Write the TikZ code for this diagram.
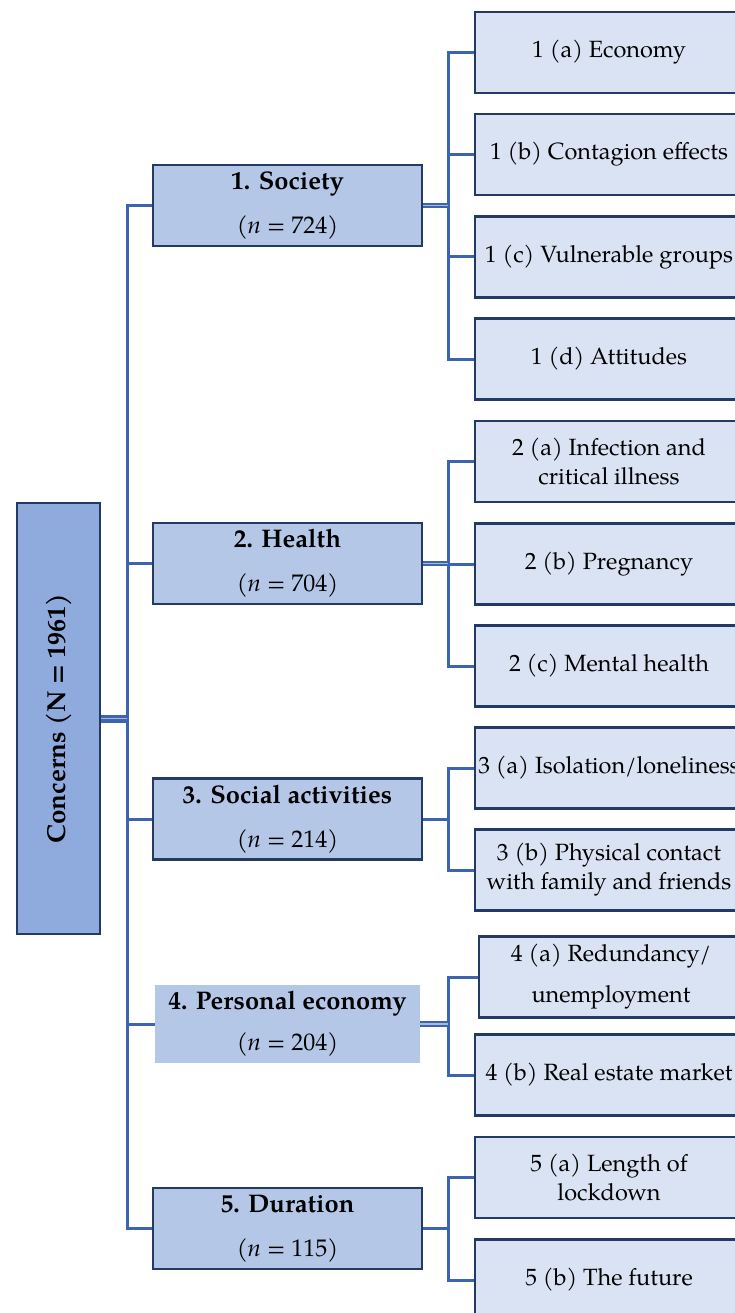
\documentclass[tikz,border=0pt]{standalone}
\usepackage{fontspec}
\setmainfont{texgyrepagella}[Extension=.otf, UprightFont=*-regular, BoldFont=*-bold, ItalicFont=*-italic, BoldItalicFont=*-bolditalic]
\definecolor{navy}{HTML}{233A64}
\definecolor{rootfill}{HTML}{8FAADC}
\definecolor{catfill}{HTML}{B4C7E7}
\definecolor{leaffill}{HTML}{DAE3F3}
\definecolor{linec}{HTML}{3D64AF}
\newcommand{\catfont}{\fontsize{24}{44}\selectfont}
\newcommand{\cattitle}[1]{{\fontsize{25.5}{44}\selectfont\bfseries #1}}
\tikzset{
  rootbox/.style={draw=navy, line width=2.8pt, fill=rootfill, minimum width=83pt, minimum height=431pt, inner sep=0pt, font=\fontsize{26}{30}\selectfont\bfseries},
  catbox/.style={draw=navy, line width=2.6pt, fill=catfill, minimum width=269pt, minimum height=81pt, inner sep=0pt, align=center, font=\catfont},
  catplain/.style={fill=catfill, minimum width=265pt, minimum height=78pt, inner sep=0pt, align=center, font=\fontsize{24}{41}\selectfont},
  leafbox/.style={draw=navy, line width=2.8pt, fill=leaffill, minimum width=268pt, minimum height=81pt, inner sep=0pt, align=center, font=\fontsize{23.5}{29}\selectfont},
  conn/.style={draw=linec, line width=3pt},
  dconn/.style={draw=linec, line width=2.2pt, double=linec!45, double distance=1.2pt},
  rconn/.style={draw=linec, line width=3.2pt, double=linec!45, double distance=1.6pt}
}
\begin{document}
\begin{tikzpicture}[x=1pt, y=-1pt]
\useasboundingbox (0,0) rectangle (735,1313);
\begin{scope}
\clip (0,0) rectangle (735,1313);
% root
\node[rootbox] (root) at (58.5,718.5) {\rotatebox{90}{Concerns (N = 1961)}};
% categories
\node[catbox] (soc) at (287.5,205.5) {\cattitle{1. Society}\\(\textit{n} = 724)};
\node[catbox] (hea) at (287.5,563.5) {\cattitle{2. Health}\\(\textit{n} = 704)};
\node[catbox] (sac) at (287.5,819) {\cattitle{3. Social activities}\\(\textit{n} = 214)};
\node[catplain] (pec) at (287.5,1024) {\cattitle{4. Personal economy}\\(\textit{n} = 204)};
\node[catbox] (dur) at (287.5,1228.5) {\cattitle{5. Duration}\\(\textit{n} = 115)};
% leaves
\node[leafbox] (l1a) at (609,52.5) {1 (a) Economy};
\node[leafbox] (l1b) at (609,154.5) {1 (b) Contagion effects};
\node[leafbox] (l1c) at (609,257) {1 (c) Vulnerable groups};
\node[leafbox] (l1d) at (609,359) {1 (d) Attitudes};
\node[leafbox] (l2a) at (609,461.5) {2 (a) Infection and\\critical illness};
\node[leafbox] (l2b) at (609,564) {2 (b) Pregnancy};
\node[leafbox] (l2c) at (609,666) {2 (c) Mental health};
\node[leafbox] (l3a) at (609,768) {3 (a) Isolation/loneliness};
\node[leafbox] (l3b) at (609,870) {3 (b) Physical contact\\with family and friends};
\node[leafbox, minimum width=264pt, font=\fontsize{23.5}{41}\selectfont] (l4a) at (611,977) {4 (a) Redundancy/\\unemployment};
\node[leafbox] (l4b) at (609,1075) {4 (b) Real estate market};
\node[leafbox] (l5a) at (609,1177.5) {5 (a) Length of\\lockdown};
\node[leafbox] (l5b) at (609,1280) {5 (b) The future};
% junction coordinates
\coordinate (tx) at (127,0);
\coordinate (bx) at (448,0);
% trunk
\draw[conn] (soc.west) -- (soc.west -| tx) -- (dur.west -| tx) -- (dur.west);
\draw[conn] (hea.west) -- (hea.west -| tx);
\draw[conn] (sac.west) -- (sac.west -| tx);
\draw[conn] (pec.west) -- (pec.west -| tx);
\draw[rconn] (root.east) -- (root.east -| tx);
% society branch
\draw[conn] (l1a.west) -- (l1a.west -| bx) -- (l1d.west -| bx) -- (l1d.west);
\draw[conn] (l1b.west) -- (l1b.west -| bx);
\draw[conn] (l1c.west) -- (l1c.west -| bx);
\draw[dconn] (soc.east) -- (soc.east -| bx);
% health branch
\draw[conn] (l2a.west) -- (l2a.west -| bx) -- (l2c.west -| bx) -- (l2c.west);
\draw[conn] (l2b.west) -- (l2b.west -| bx);
\draw[dconn] (hea.east) -- (hea.east -| bx);
% social branch
\draw[conn] (l3a.west) -- (l3a.west -| bx) -- (l3b.west -| bx) -- (l3b.west);
\draw[conn] (sac.east) -- (sac.east -| bx);
% personal economy branch
\draw[conn] (l4a.west) -- (l4a.west -| bx) -- (l4b.west -| bx) -- (l4b.west);
\draw[dconn] (pec.east) -- (pec.east -| bx);
% duration branch
\draw[conn] (l5a.west) -- (l5a.west -| bx) -- (l5b.west -| bx) -- (l5b.west);
\draw[conn] (dur.east) -- (dur.east -| bx);
\end{scope}
\end{tikzpicture}
\end{document}
